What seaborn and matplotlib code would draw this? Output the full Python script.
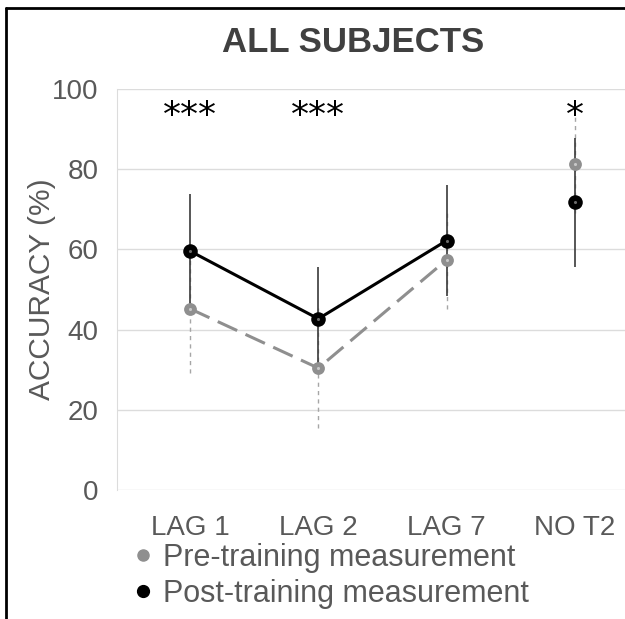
import numpy as np
import pandas as pd
import matplotlib
matplotlib.use("Agg")
import matplotlib.pyplot as plt
from matplotlib.lines import Line2D
import seaborn as sns

#  Chart data
conditions = ["LAG 1", "LAG 2", "LAG 7", "NO T2"]
pre_mean = [45.2, 30.4, 57.4, 81.2]
pre_err = [15.9, 15.0, 12.2, 12.0]
post_mean = [59.6, 42.7, 62.2, 71.7]
post_err = [14.3, 13.0, 13.8, 16.0]
stars = ["***", "***", "", "*"]
star_y = 90.8

sns.set_style("white")
plt.rcParams['font.family'] = ['Liberation Sans', 'DejaVu Sans']

txt = "#595959"
pre_col = "#8f8f8f"
post_col = "#000000"

df = pd.DataFrame({
    "condition": conditions * 2,
    "session": ["pre"] * 4 + ["post"] * 4,
    "accuracy": pre_mean + post_mean,
    "err": pre_err + post_err,
})
lags = df[df["condition"] != "NO T2"]

fig = plt.figure(figsize=(6.25, 6.19), dpi=100)
ax = fig.add_axes([0.187, 0.2084, 0.813, 0.6478])
x = np.arange(len(conditions))

#  Error bars
eb_pre = ax.errorbar(x, pre_mean, yerr=pre_err, fmt="none", ecolor="#a6a6a6",
                     elinewidth=1.0, zorder=2)
eb_pre[2][0].set_linestyle((0, (3, 3)))
ax.errorbar(x, post_mean, yerr=post_err, fmt="none", ecolor="#3a3a3a",
            elinewidth=1.2, capsize=0, zorder=3)

#  Connecting lines (lags only)
pre_l = lags[lags["session"] == "pre"]
post_l = lags[lags["session"] == "post"]
sns.lineplot(x=np.arange(len(pre_l)), y=pre_l["accuracy"].values, ax=ax,
             color=pre_col, linewidth=2.2, zorder=2.5)
ax.lines[-1].set_dashes((7, 3))
sns.lineplot(x=np.arange(len(post_l)), y=post_l["accuracy"].values, ax=ax,
             color=post_col, linewidth=2.2, zorder=4)

#  Markers
sns.scatterplot(x=x, y=pre_mean, ax=ax, color=pre_col, s=85,
                edgecolor=pre_col, linewidth=0, zorder=5)
sns.scatterplot(x=x, y=post_mean, ax=ax, color=post_col, s=110,
                edgecolor=post_col, linewidth=0, zorder=6)
ax.scatter(x, pre_mean, s=5, color="#c8c8c8", zorder=7, linewidths=0)
ax.scatter(x, post_mean, s=5, color="#6a6a6a", zorder=7, linewidths=0)

#  Significance stars
for xi, s in zip(x, stars):
    if s:
        ax.text(xi, star_y, s, ha="center", va="baseline", fontsize=26,
                color="black", family="DejaVu Sans")

ax.set_ylim(0, 100)
ax.set_xlim(-0.57, 3.39)
ax.set_yticks([0, 20, 40, 60, 80, 100])
ax.set_xticks(x)
ax.set_xticklabels(conditions)
ax.yaxis.grid(True, color="#dcdcdc", linewidth=1.0)
ax.set_axisbelow(True)
for side in ["top", "right", "bottom"]:
    ax.spines[side].set_visible(False)
ax.spines["left"].set_color("#dcdcdc")
ax.tick_params(axis="both", length=0, labelsize=20, colors=txt)
ax.tick_params(axis="y", pad=13)
ax.tick_params(axis="x", pad=18)
ax.set_ylabel("ACCURACY (%)", fontsize=21.5, color=txt, labelpad=-3)
ax.set_xlabel("")

fig.text(0.565, 0.932, "ALL SUBJECTS", ha="center", va="center",
         fontsize=25, fontweight="bold", color="#404040")

handles = [
    Line2D([], [], linestyle="none", marker="o", markersize=8,
           color=pre_col, label="Pre-training measurement"),
    Line2D([], [], linestyle="none", marker="o", markersize=8.5,
           color=post_col, label="Post-training measurement"),
]
leg = fig.legend(handles=handles, loc="upper left", bbox_to_anchor=(0.185, 0.143),
                 frameon=False, fontsize=22, handletextpad=0.15, labelspacing=0.2,
                 borderaxespad=0, handlelength=1.0)
for t in leg.get_texts():
    t.set_color(txt)

#  Outer frame (left, top)
fig.add_artist(Line2D([0.0096, 0.0096], [0, 0.987], color="black", linewidth=2,
                      transform=fig.transFigure))
fig.add_artist(Line2D([0.0096, 1.0], [0.987, 0.987], color="black", linewidth=2,
                      transform=fig.transFigure))

fig.savefig("out.png", dpi=100)
